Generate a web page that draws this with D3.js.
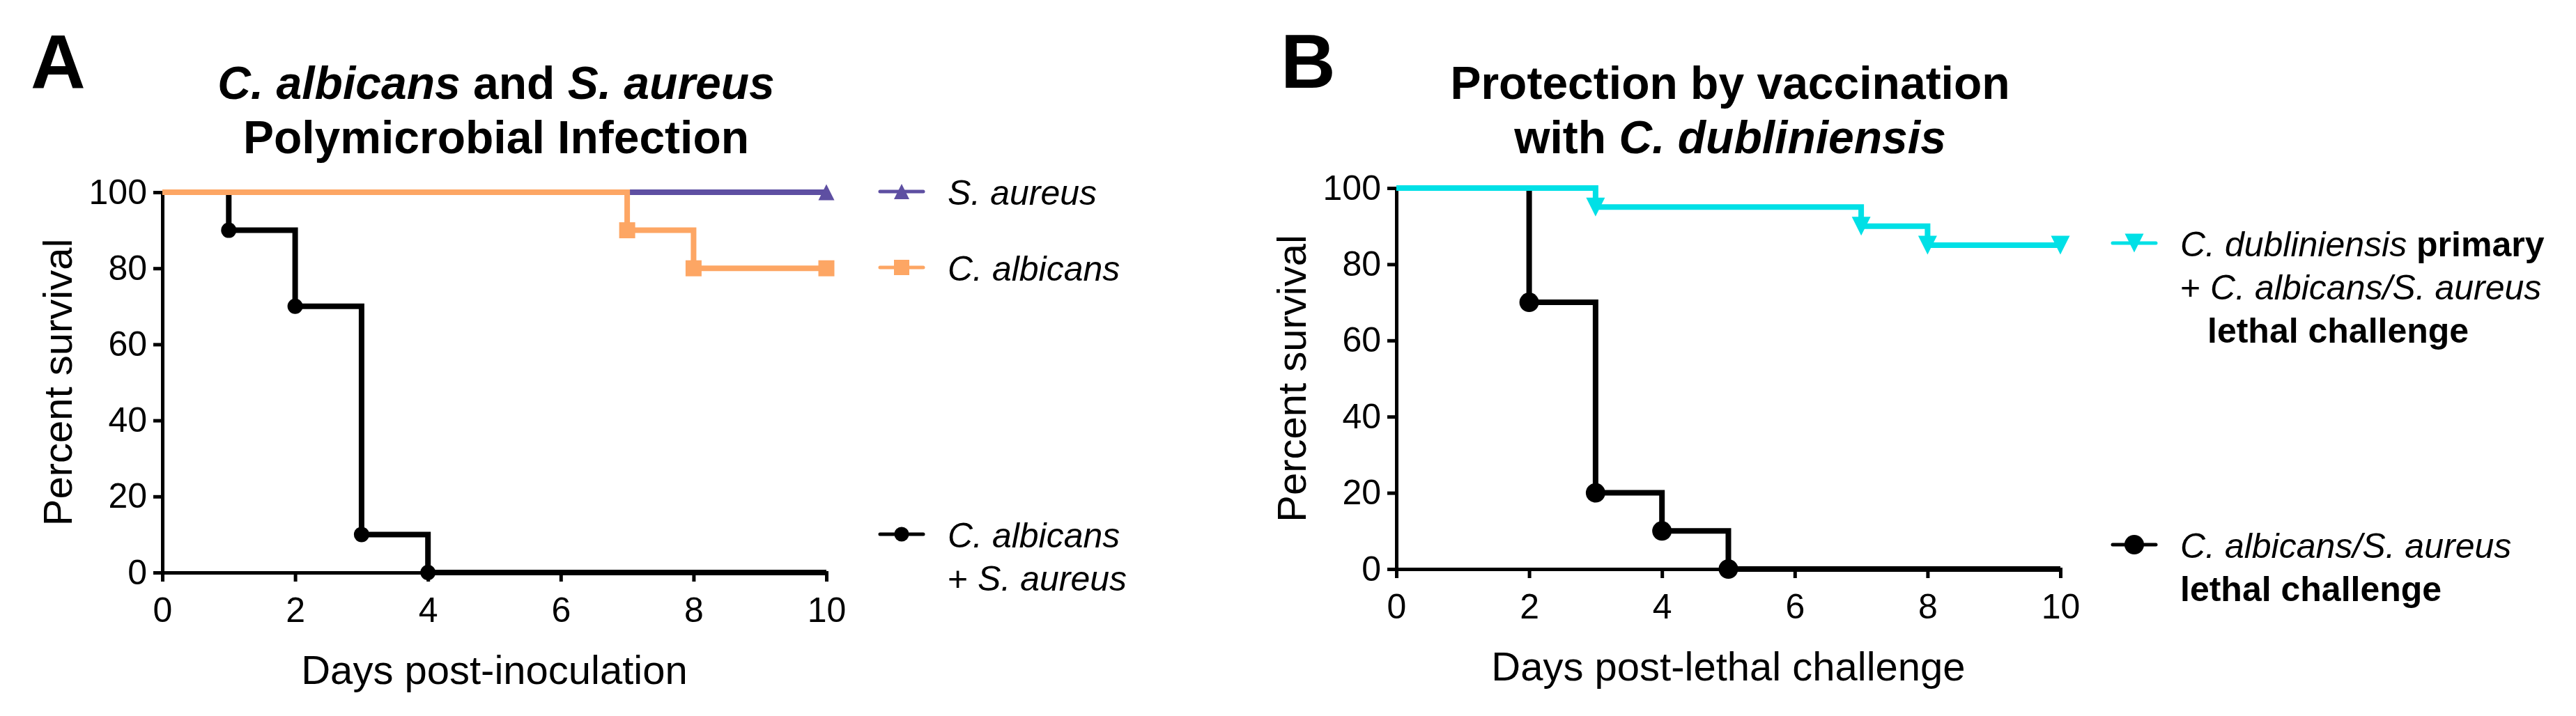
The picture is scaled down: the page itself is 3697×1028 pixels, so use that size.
<!DOCTYPE html>
<html>
<head>
<meta charset="utf-8">
<script src="https://cdn.jsdelivr.net/npm/d3@7/dist/d3.min.js"></script>
<style>
  body { margin: 0; background: white; }
  text, tspan { font-family: "Liberation Sans", Arial, sans-serif; white-space: pre; }
</style>
</head>
<body>
<script>

var svg_width = 3697, svg_height = 1028;
var font_family = "'Liberation Sans', Arial, sans-serif";

// Panel A : C. albicans + S. aureus polymicrobial infection
var a_coinf_days = [0, 1, 2, 3, 4, 10];
var a_coinf_surv = [100, 90, 70, 10, 0, 0];
var a_coinf_marks = [1, 2, 3, 4];

var a_calb_days = [0, 7, 8, 10];
var a_calb_surv = [100, 90, 80, 80];
var a_calb_marks = [7, 8, 10];

var a_saur_days = [0, 10];
var a_saur_surv = [100, 100];
var a_saur_marks = [10];

// Panel B : protection by C. dubliniensis vaccination
var b_vacc_days = [0, 3, 7, 8, 10];
var b_vacc_surv = [100, 95, 90, 85, 85];
var b_vacc_marks = [3, 7, 8, 10];

var b_lethal_days = [0, 2, 3, 4, 5, 10];
var b_lethal_surv = [100, 70, 20, 10, 0, 0];
var b_lethal_marks = [2, 3, 4, 5];

var x_ticks = [0, 2, 4, 6, 8, 10];
var y_ticks = [0, 20, 40, 60, 80, 100];

// text pieces: [text, italic, bold]
var a_title = [[["C. albicans", 1, 1], [" and ", 0, 1], ["S. aureus", 1, 1]],
               [["Polymicrobial Infection", 0, 1]]];
var b_title = [[["Protection by vaccination", 0, 1]],
               [["with ", 0, 1], ["C. dubliniensis", 1, 1]]];

var a_legend_saur = [[["S. aureus", 1, 0]]];
var a_legend_calb = [[["C. albicans", 1, 0]]];
var a_legend_coinf = [[["C. albicans", 1, 0]], [["+ ", 0, 0], ["S. aureus", 1, 0]]];

var b_legend_vacc = [[["C. dubliniensis", 1, 0], [" primary", 0, 1]],
                     [["+ ", 0, 0], ["C. albicans/S. aureus", 1, 0]],
                     [["lethal challenge", 0, 1]]];
var b_legend_lethal = [[["C. albicans/S. aureus", 1, 0]], [["lethal challenge", 0, 1]]];

var purple = "#5E4FA2", orange = "#FDA664", cyan = "#00E0E6", black = "#000000";


function start()
{
  svg = d3.select("body").append("svg")
          .attr("width", svg_width)
          .attr("height", svg_height);

  svg.append("rect").attr("width", svg_width).attr("height", svg_height).style("fill", "white");

  // Panel A
  drawPanel({
    left: 233, top: 276, width: 953, height: 546,
    letter: "A", letterX: 44,
    title: a_title, titleX: 712,
    xLabel: "Days post-inoculation",
    series: [
      {days: a_saur_days, surv: a_saur_surv, marks: a_saur_marks, color: purple, shape: "up", size: 23},
      {days: a_coinf_days, surv: a_coinf_surv, marks: a_coinf_marks, color: black, shape: "circle", size: 22},
      {days: a_calb_days, surv: a_calb_surv, marks: a_calb_marks, color: orange, shape: "square", size: 23}
    ],
    legend: [
      {y: 275, color: purple, shape: "up", size: 22, lines: a_legend_saur, indent: []},
      {y: 384, color: orange, shape: "square", size: 22, lines: a_legend_calb, indent: []},
      {y: 767, color: black, shape: "circle", size: 21, lines: a_legend_coinf, indent: []}
    ],
    legendX: 1263
  });

  // Panel B
  drawPanel({
    left: 2004, top: 270, width: 953, height: 547,
    letter: "B", letterX: 1838,
    title: b_title, titleX: 2483,
    xLabel: "Days post-lethal challenge",
    series: [
      {days: b_lethal_days, surv: b_lethal_surv, marks: b_lethal_marks, color: black, shape: "circle", size: 28},
      {days: b_vacc_days, surv: b_vacc_surv, marks: b_vacc_marks, color: cyan, shape: "down", size: 27}
    ],
    legend: [
      {y: 349, color: cyan, shape: "down", size: 27, lines: b_legend_vacc, indent: [0, 0, 39]},
      {y: 782, color: black, shape: "circle", size: 28, lines: b_legend_lethal, indent: []}
    ],
    legendX: 3032
  });
}


function markerPath(shape, s)
{
  var h = s / 2;
  if (shape == "up") return "M0," + (-h) + "L" + h + "," + h + "L" + (-h) + "," + h + "Z";
  if (shape == "down") return "M0," + h + "L" + h + "," + (-h) + "L" + (-h) + "," + (-h) + "Z";
  if (shape == "square") return "M" + (-h) + "," + (-h) + "h" + s + "v" + s + "h" + (-s) + "Z";
  var p = d3.path();
  p.arc(0, 0, h, 0, 2 * Math.PI);
  p.closePath();
  return p.toString();
}


function richText(g, x, y, pieces, size, anchor)
{
  var t = g.append("text")
           .attr("x", x)
           .attr("y", y)
           .attr("text-anchor", anchor || "start")
           .style("font-family", font_family)
           .style("font-size", size + "px")
           .style("fill", "black");
  pieces.forEach(function(p)
  {
    t.append("tspan")
     .text(p[0])
     .style("font-style", p[1] ? "italic" : "normal")
     .style("font-weight", p[2] ? "bold" : "normal");
  });
  return t;
}


function drawPanel(cfg)
{
  var panel = svg.append("g");

  var xScale = d3.scaleLinear().domain([0, 10]).range([cfg.left, cfg.left + cfg.width]);
  var yScale = d3.scaleLinear().domain([0, 100]).range([cfg.top + cfg.height, cfg.top]);

  // panel letter
  panel.append("text")
       .attr("x", cfg.letterX)
       .attr("y", 126)
       .text(cfg.letter)
       .style("font-family", font_family)
       .style("font-size", "109px")
       .style("font-weight", "bold");

  // title
  cfg.title.forEach(function(line, i)
  {
    richText(panel, cfg.titleX, 142 + i * 78, line, 66, "middle");
  });

  // Axes
  var xAxis = d3.axisBottom(xScale).tickValues(x_ticks).tickSizeInner(13).tickSizeOuter(0).tickPadding(22);
  var yAxis = d3.axisLeft(yScale).tickValues(y_ticks).tickSizeInner(13).tickSizeOuter(0).tickPadding(9);

  var gx = panel.append("g")
                .attr("transform", "translate(0," + (cfg.top + cfg.height) + ")")
                .call(xAxis);
  var gy = panel.append("g")
                .attr("transform", "translate(" + cfg.left + ",0)")
                .call(yAxis);

  [gx, gy].forEach(function(g)
  {
    g.select(".domain").attr("stroke", "black").attr("stroke-width", 5).attr("stroke-linecap", "square");
    g.selectAll(".tick line").attr("stroke", "black").attr("stroke-width", 5);
    g.selectAll(".tick text")
     .style("font-size", "50px")
     .style("font-family", font_family)
     .attr("fill", "black");
  });

  // axis titles
  panel.append("text")
       .attr("x", (cfg.left + cfg.left + cfg.width) / 2)
       .attr("y", cfg.top + cfg.height + 160)
       .attr("text-anchor", "middle")
       .text(cfg.xLabel)
       .style("font-family", font_family)
       .style("font-size", "58px");

  panel.append("text")
       .attr("text-anchor", "middle")
       .attr("transform", "translate(" + (cfg.left - 130) + "," + (cfg.top + cfg.height / 2) + ") rotate(-90)")
       .text("Percent survival")
       .style("font-family", font_family)
       .style("font-size", "58px");

  // survival curves
  var stepLine = d3.line()
                   .x(function(d) { return xScale(d[0]); })
                   .y(function(d) { return yScale(d[1]); })
                   .curve(d3.curveStepAfter);

  cfg.series.forEach(function(s)
  {
    var pts = s.days.map(function(d, i) { return [d, s.surv[i]]; });

    panel.append("path")
         .datum(pts)
         .attr("d", stepLine)
         .style("fill", "none")
         .style("stroke", s.color)
         .style("stroke-width", 8);

    panel.selectAll(null)
         .data(pts.filter(function(p) { return s.marks.indexOf(p[0]) >= 0; }))
         .enter()
         .append("path")
         .attr("d", markerPath(s.shape, s.size))
         .attr("transform", function(p) { return "translate(" + xScale(p[0]) + "," + yScale(p[1]) + ")"; })
         .style("fill", s.color);
  });

  // Legend
  cfg.legend.forEach(function(item)
  {
    var lg = panel.append("g");
    lg.append("line")
      .attr("x1", cfg.legendX).attr("x2", cfg.legendX + 62)
      .attr("y1", item.y).attr("y2", item.y)
      .style("stroke", item.color)
      .style("stroke-width", 5)
      .style("stroke-linecap", "round");
    lg.append("path")
      .attr("d", markerPath(item.shape, item.size))
      .attr("transform", "translate(" + (cfg.legendX + 31) + "," + item.y + ")")
      .style("fill", item.color);

    item.lines.forEach(function(line, i)
    {
      richText(lg, cfg.legendX + 97 + (item.indent[i] || 0), item.y + 19 + i * 62, line, 50, "start");
    });
  });
}

start();

</script>
</body>
</html>
